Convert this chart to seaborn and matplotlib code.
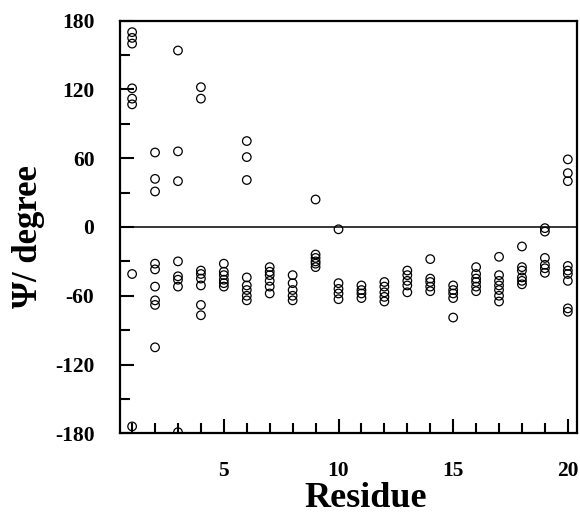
import numpy as np
import pandas as pd
import matplotlib
matplotlib.use("Agg")
import matplotlib.pyplot as plt
import seaborn as sns
from matplotlib.ticker import MultipleLocator

# Psi backbone dihedral angles (degrees) sampled for each residue
psi_r1 = [170, 165, 160, 121, 112, 107, -41, -174]
psi_r2 = [65, 42, 31, -32, -37, -52, -64, -68, -105]
psi_r3 = [154, 66, 40, -30, -43, -46, -52, -179]
psi_r4 = [122, 112, -38, -41, -45, -51, -68, -77]
psi_r5 = [-32, -39, -42, -46, -49, -52]
psi_r6 = [75, 61, 41, -44, -51, -55, -60, -64]
psi_r7 = [-35, -39, -42, -47, -52, -58]
psi_r8 = [-42, -49, -55, -60, -64]
psi_r9 = [24, -24, -27, -30, -32, -35]
psi_r10 = [-2, -49, -54, -58, -63]
psi_r11 = [-51, -55, -58, -62]
psi_r12 = [-48, -52, -57, -61, -65]
psi_r13 = [-38, -42, -47, -51, -57]
psi_r14 = [-28, -45, -48, -52, -56]
psi_r15 = [-51, -55, -58, -62, -79]
psi_r16 = [-35, -41, -45, -48, -52, -56]
psi_r17 = [-26, -42, -47, -51, -55, -60, -65]
psi_r18 = [-17, -35, -38, -44, -47, -50]
psi_r19 = [-1, -4, -27, -33, -36, -40]
psi_r20 = [59, 47, 40, -34, -38, -41, -47, -71, -74]

psi_by_residue = [psi_r1, psi_r2, psi_r3, psi_r4, psi_r5, psi_r6, psi_r7,
                  psi_r8, psi_r9, psi_r10, psi_r11, psi_r12, psi_r13,
                  psi_r14, psi_r15, psi_r16, psi_r17, psi_r18, psi_r19,
                  psi_r20]
residues = list(range(1, 21))

y_ticks = [-180, -120, -60, 0, 60, 120, 180]
x_ticks = [5, 10, 15, 20]

rows = [(r, v) for r, vals in zip(residues, psi_by_residue) for v in vals]
df = pd.DataFrame(rows, columns=["Residue", "Psi"])

sns.set_theme(style="ticks")
plt.rcParams["font.family"] = ["Liberation Serif", "DejaVu Serif"]
plt.rcParams["font.weight"] = "bold"
plt.rcParams["axes.unicode_minus"] = False
plt.rcParams["text.color"] = "black"
plt.rcParams["axes.labelcolor"] = "black"
plt.rcParams["xtick.color"] = "black"
plt.rcParams["ytick.color"] = "black"

fig = plt.figure(figsize=(5.8, 5.16), dpi=100)
ax = fig.add_axes([119.5 / 580, 1 - 433.3 / 516,
                   (577 - 119.5) / 580, (433.3 - 20.7) / 516])

ax.axhline(0, color="black", lw=1.1, zorder=1)
sns.scatterplot(data=df, x="Residue", y="Psi", ax=ax, marker="o",
                s=38, facecolor="none", edgecolor="black", linewidth=0.9,
                zorder=3, legend=False)

ax.set_xlim(0.45, 20.4)
ax.set_ylim(-180, 180)
ax.set_xticks(x_ticks)
ax.xaxis.set_minor_locator(MultipleLocator(1))
ax.set_yticks(y_ticks)
ax.set_yticklabels([str(t) for t in y_ticks])
ax.yaxis.set_minor_locator(MultipleLocator(30))

ax.tick_params(which="both", direction="in", width=1.5, color="black",
               labelcolor="black", labelsize=15.5)
ax.tick_params(which="major", length=10)
ax.tick_params(which="minor", length=7)
ax.tick_params(axis="y", which="major", pad=18)
ax.tick_params(axis="x", which="major", pad=20)
for lab in ax.get_xticklabels() + ax.get_yticklabels():
    lab.set_fontweight("bold")

for side in ["left", "right", "top", "bottom"]:
    ax.spines[side].set_visible(True)
    ax.spines[side].set_linewidth(1.6)
    ax.spines[side].set_color("black")

ax.set_xlabel("Residue", fontsize=26, fontweight="bold", color="black")
ax.xaxis.label.set_va("baseline")
ax.xaxis.set_label_coords(0.537, -0.178)
ax.set_ylabel("\u03a8/ degree", fontsize=25, fontweight="bold", color="black")
ax.yaxis.label.set_va("center")
ax.yaxis.set_label_coords(-0.198, 0.4765)

fig.savefig("out.png", dpi=100, facecolor="white")
